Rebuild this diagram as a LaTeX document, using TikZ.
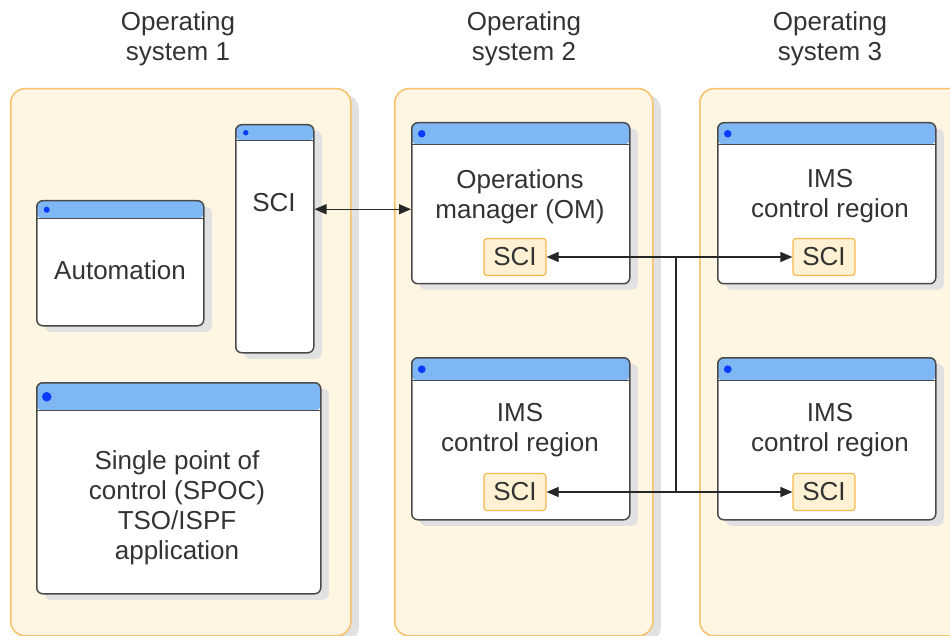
\documentclass[tikz,border=0pt]{standalone}
\usepackage{fontspec}
\setmainfont{Liberation Sans}
\usetikzlibrary{arrows.meta, shadows}

\definecolor{osfill}{HTML}{FFF5E3}
\definecolor{osline}{HTML}{F6C168}
\definecolor{winline}{HTML}{4A4A4A}
\definecolor{headblue}{HTML}{7EB7F3}
\definecolor{dotblue}{HTML}{0A3CFF}
\definecolor{scifill}{HTML}{FFF2D4}
\definecolor{sciline}{HTML}{F5B94A}
\definecolor{txtgray}{HTML}{333333}
\definecolor{shadowgray}{HTML}{E1E1E1}

\tikzset{
  hdr/.store in=\winhdr, hdr=20pt,
  osbox/.style={anchor=north west, draw=osline, fill=osfill, line width=1.5pt,
    rounded corners=14pt, inner sep=0pt,
    drop shadow={shadow xshift=8pt, shadow yshift=-6pt, fill=shadowgray, opacity=1}},
  win/.style={anchor=north west, draw=winline, fill=white, line width=1.5pt,
    rounded corners=6pt, inner sep=0pt,
    drop shadow={shadow xshift=8pt, shadow yshift=-6pt, fill=shadowgray, opacity=1},
    path picture={
      \fill[headblue] (path picture bounding box.north west) rectangle ([yshift=-\winhdr]path picture bounding box.north east);
      \draw[winline, line width=1.2pt] ([yshift=-\winhdr]path picture bounding box.north west) -- ([yshift=-\winhdr]path picture bounding box.north east);
      \fill[dotblue] ([xshift=10pt, yshift=-0.5*\winhdr]path picture bounding box.north west) circle (0.17*\winhdr);
    }},
  txt/.style={align=center, text=txtgray, font=\fontsize{26}{30}\selectfont},
  sci/.style={txt, draw=sciline, fill=scifill, line width=1.2pt, rounded corners=3pt,
    minimum width=62pt, minimum height=37pt, inner sep=0pt},
  conn/.style={{Triangle[length=12pt, width=10pt]}-{Triangle[length=12pt, width=10pt]}, line width=1.2pt, draw=black!85},
  wire/.style={line width=1.2pt, draw=black!85},
}

\begin{document}
\begin{tikzpicture}[x=1pt, y=-1pt]
\useasboundingbox (0,0) rectangle (950,636);
% Operating system frames
\node[osbox, minimum width=340pt, minimum height=547pt] (os1) at (10,88) {};
\node[osbox, minimum width=258pt, minimum height=547pt] (os2) at (394,88) {};
\node[osbox, minimum width=290pt, minimum height=547pt] (os3) at (699,88) {};
% Titles
\node[txt] (os1 title) at (178,39) {Operating\\system 1};
\node[txt] (os2 title) at (524,39) {Operating\\system 2};
\node[txt] (os3 title) at (830,39) {Operating\\system 3};
% Operating system 1
\node[win, hdr=18pt, minimum width=167pt, minimum height=125pt] (auto) at (36,200) {};
\node[txt] (auto text) at (120,270) {Automation};
\node[win, hdr=16pt, minimum width=78pt, minimum height=228pt] (scione) at (235,124) {};
\node[txt] (scione text) at (274,203) {SCI};
\node[win, hdr=28pt, minimum width=284pt, minimum height=211pt] (spoc) at (36,382) {};
\node[txt] (spoc text) at (177,508) {Single point of\\control (SPOC)\\TSO/ISPF\\application};
% Operating system 2
\node[win, hdr=22pt, minimum width=218pt, minimum height=161pt] (om) at (411,122) {};
\node[txt] (om text) at (520,197) {Operations\\manager (OM)};
\node[sci] (om sci) at (515,257) {SCI};
\node[win, hdr=23pt, minimum width=218pt, minimum height=162pt] (imstwo) at (411,357) {};
\node[txt] (imstwo text) at (520,430) {IMS\\control region};
\node[sci] (imstwo sci) at (515,492) {SCI};
% Operating system 3
\node[win, hdr=22pt, minimum width=218pt, minimum height=161pt] (imsthreea) at (717,122) {};
\node[txt] (imsthreea text) at (830,196) {IMS\\control region};
\node[sci] (imsthreea sci) at (824,257) {SCI};
\node[win, hdr=23pt, minimum width=218pt, minimum height=162pt] (imsthreeb) at (717,357) {};
\node[txt] (imsthreeb text) at (830,430) {IMS\\control region};
\node[sci] (imsthreeb sci) at (824,492) {SCI};
% SCI to OM
\coordinate (om port) at ([yshift=-6pt]om.west);
\draw[conn] (scione.east |- om port) -- (om port);
% SCI links between the systems
\draw[conn] (om sci.east) -- (imsthreea sci.west);
\draw[conn] (imstwo sci.east) -- (imsthreeb sci.west);
\coordinate (bus top) at (676,257);
\coordinate (bus bottom) at (676,492);
\draw[wire] (bus top) -- (bus bottom);
\end{tikzpicture}
\end{document}
